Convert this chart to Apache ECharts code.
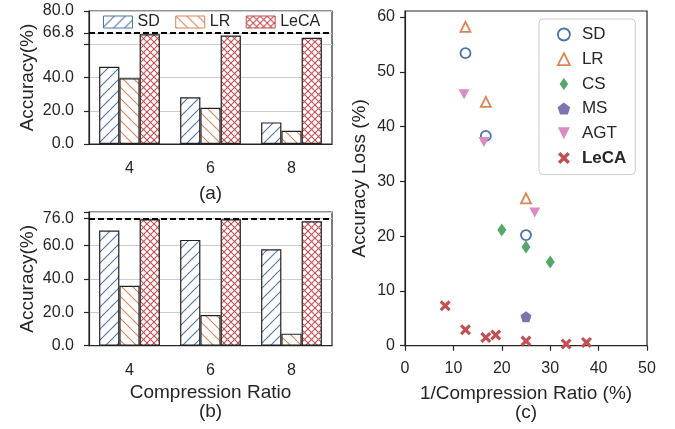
<!DOCTYPE html>
<html><head><meta charset="utf-8">
<script src="https://cdn.jsdelivr.net/npm/echarts@6/dist/echarts.min.js"></script>
<style>html,body{margin:0;padding:0;background:#fff}#c{width:675px;height:429px}</style>
</head><body><div id="c"></div>
<script>
// ---- data ----
const categories = ['4', '6', '8'];
const topSD = [46.5, 28.1, 13.0];
const topLR = [39.5, 21.8, 8.0];
const topLeCA = [66.0, 65.2, 63.9];
const topRef = 66.8;
const topLabelValues = [0, 20, 40, 66.8, 80];
const topTickValues = [0, 20, 40, 60, 66.8, 80];

const botSD = [68.9, 63.3, 57.7];
const botLR = [35.9, 18.4, 7.2];
const botLeCA = [75.7, 75.7, 74.5];
const botRef = 76.0;
const botLabelValues = [0, 20, 40, 60, 76];
const botTickValues = [0, 20, 40, 60, 76, 80];

const scSD = [[12.5, 53.4], [16.7, 38.3], [25, 20.2]];
const scLR = [[12.5, 58.2], [16.7, 44.5], [25, 26.9]];
const scCS = [[20, 21.1], [25, 18.0], [30, 15.3]];
const scMS = [[25, 5.3]];
const scAGT = [[12.2, 45.9], [16.3, 37.2], [26.8, 24.3]];
const scLeCA = [[8.3, 7.3], [12.5, 2.9], [16.7, 1.5], [18.75, 1.95], [25, 0.85], [33.3, 0.3], [37.5, 0.6]];
const scYLabels = [0, 10, 20, 30, 40, 50, 60];

// ---- styles ----
const FONT = 'Liberation Sans, Arial, sans-serif';
const INK = '#262626';
const C_BLUE = '#4C72B0', C_ORANGE = '#DD8452', C_GREEN = '#55A868',
      C_PURPLE = '#8172B3', C_PINK = '#DA8BC3', C_RED = '#C44E52';

function hatch(color, d, dirs) {
  const c = document.createElement('canvas');
  c.width = d; c.height = d;
  const g = c.getContext('2d');
  g.fillStyle = '#fff'; g.fillRect(0, 0, d, d);
  g.strokeStyle = color; g.lineWidth = 1.1;
  for (const dir of dirs) {
    for (let k = -1; k <= 1; k++) {
      g.beginPath();
      if (dir === '/') { g.moveTo(k * d, d); g.lineTo(k * d + d, 0); }
      else { g.moveTo(k * d, 0); g.lineTo(k * d + d, d); }
      g.stroke();
    }
  }
  return { image: c, repeat: 'repeat' };
}
const patSD = hatch(C_BLUE, 11, ['/']);
const patLR = hatch(C_ORANGE, 11, ['\\']);
const patLeCA = hatch(C_RED, 7, ['/', '\\']);

const axisLineStyle = { color: INK, width: 1.2 };
const tickLabel = { fontSize: 16, color: INK, fontFamily: FONT };

function barSeries(name, data, pat, idx, mark) {
  const s = {
    name: name, type: 'bar', xAxisIndex: idx, yAxisIndex: idx, data: data,
    barCategoryGap: '25%', barGap: '0%',
    itemStyle: { color: pat, borderColor: '#222', borderWidth: 1.2 },
    emphasis: { disabled: true }, silent: true
  };
  if (mark !== undefined) {
    s.markLine = {
      silent: true, symbol: ['none', 'none'], label: { show: false },
      lineStyle: { color: '#000', width: 1.8, type: [6, 3] },
      data: [{ yAxis: mark }]
    };
  }
  return s;
}

const X = 'path://M2,0 L5,3 L8,0 L10,2 L7,5 L10,8 L8,10 L5,7 L2,10 L0,8 L3,5 L0,2 Z';
const PENT = 'path://M0,-1 L0.951,-0.309 L0.588,0.809 L-0.588,0.809 L-0.951,-0.309 Z';
const TRI = 'path://M0,-1 L1,1 L-1,1 Z';
const TRI_DOWN = 'path://M-1,-1 L1,-1 L0,1 Z';
const DIAM = 'path://M0,-1.4 L1,0 L0,1.4 L-1,0 Z';

function sc(name, data, symbol, size, style) {
  return { name: name, type: 'scatter', xAxisIndex: 2, yAxisIndex: 2, data: data,
    symbol: symbol, symbolSize: size, itemStyle: Object.assign({ opacity: 1 }, style),
    emphasis: { disabled: true }, silent: true };
}

const chart = echarts.init(document.getElementById('c'), null, { renderer: 'canvas' });
chart.setOption({
  animation: false,
  backgroundColor: '#fff',
  textStyle: { fontFamily: FONT, color: INK },
  grid: [
    { left: 89, top: 11, width: 243, height: 133, show: true, borderColor: INK, borderWidth: 1.2, backgroundColor: 'transparent' },
    { left: 89, top: 212, width: 243, height: 133.7, show: true, borderColor: INK, borderWidth: 1.2, backgroundColor: 'transparent' },
    { left: 405, top: 11, width: 242, height: 334.7, show: true, borderColor: INK, borderWidth: 1.2, backgroundColor: 'transparent' }
  ],
  xAxis: [
    { type: 'category', gridIndex: 0, data: categories,
      axisLine: { lineStyle: axisLineStyle }, axisTick: { alignWithLabel: true, length: 5, lineStyle: axisLineStyle },
      axisLabel: Object.assign({ margin: 17 }, tickLabel),
      name: '(a)', nameLocation: 'middle', nameGap: 40, nameTextStyle: { fontSize: 19, color: INK, fontFamily: FONT } },
    { type: 'category', gridIndex: 1, data: categories,
      axisLine: { lineStyle: axisLineStyle }, axisTick: { alignWithLabel: true, length: 5, lineStyle: axisLineStyle },
      axisLabel: Object.assign({ margin: 17 }, tickLabel),
      name: 'Compression Ratio\n(b)', nameLocation: 'middle', nameGap: 37.5,
      nameTextStyle: { fontSize: 19, lineHeight: 19, color: INK, fontFamily: FONT } },
    { type: 'value', gridIndex: 2, min: 0, max: 50, interval: 10,
      axisLine: { lineStyle: axisLineStyle }, axisTick: { length: 5, lineStyle: axisLineStyle },
      axisLabel: Object.assign({ margin: 15 }, tickLabel), splitLine: { show: false },
      name: '1/Compression Ratio (%)\n(c)', nameLocation: 'middle', nameGap: 38.5,
      nameTextStyle: { fontSize: 19, lineHeight: 19, color: INK, fontFamily: FONT } }
  ],
  yAxis: [
    { type: 'value', gridIndex: 0, min: 0, max: 80, interval: 20,
      axisLine: { show: true, lineStyle: axisLineStyle },
      axisTick: { show: true, length: 5, lineStyle: axisLineStyle, customValues: topTickValues },
      axisLabel: Object.assign({ margin: 15, customValues: topLabelValues, formatter: v => Number(v).toFixed(1) }, tickLabel),
      splitLine: { show: true, lineStyle: { color: '#cccccc', width: 1 } },
      name: 'Accuracy(%)', nameLocation: 'middle', nameGap: 52, nameTextStyle: { fontSize: 19, color: INK, fontFamily: FONT } },
    { type: 'value', gridIndex: 1, min: 0, max: 80, interval: 20,
      axisLine: { show: true, lineStyle: axisLineStyle },
      axisTick: { show: true, length: 5, lineStyle: axisLineStyle, customValues: botTickValues },
      axisLabel: Object.assign({ margin: 15, customValues: botLabelValues, formatter: v => Number(v).toFixed(1) }, tickLabel),
      splitLine: { show: true, lineStyle: { color: '#cccccc', width: 1 } },
      name: 'Accuracy(%)', nameLocation: 'middle', nameGap: 52, nameTextStyle: { fontSize: 19, color: INK, fontFamily: FONT } },
    { type: 'value', gridIndex: 2, min: 0, max: 61.1, interval: 10,
      axisLine: { show: true, lineStyle: axisLineStyle },
      axisTick: { show: true, length: 5, lineStyle: axisLineStyle, customValues: scYLabels },
      axisLabel: Object.assign({ margin: 10, customValues: scYLabels }, tickLabel),
      splitLine: { show: false },
      name: 'Accuracy Loss (%)', nameLocation: 'middle', nameGap: 36, nameTextStyle: { fontSize: 19, color: INK, fontFamily: FONT } }
  ],
  legend: [
    { left: 103, top: 14, padding: 0, orient: 'horizontal', itemWidth: 29, itemHeight: 12, itemGap: 15.5,
      icon: 'rect', textStyle: { fontSize: 16, color: INK, fontFamily: FONT, lineHeight: 16 },
      selectedMode: false,
      data: [
        { name: 'SD', itemStyle: { borderColor: C_BLUE, borderWidth: 1 } },
        { name: 'LR', itemStyle: { borderColor: C_ORANGE, borderWidth: 1 } },
        { name: 'LeCA', itemStyle: { borderColor: C_RED, borderWidth: 1 } }
      ] },
    { left: 539, top: 19, orient: 'vertical', padding: [7, 9, 8, 18], itemWidth: 26, itemHeight: 12, itemGap: 7.7,
      borderColor: '#cccccc', borderWidth: 1, borderRadius: 4, backgroundColor: '#fff',
      selectedMode: false,
      formatter: n => n === 'c_LeCA' ? '{b|LeCA}' : n.replace('c_', ''),
      textStyle: { fontSize: 17, color: INK, fontFamily: FONT, lineHeight: 16,
        rich: { b: { fontSize: 17, fontWeight: 'bold', color: INK, fontFamily: FONT, lineHeight: 16 } } },
      data: [
        { name: 'c_SD', itemStyle: { color: '#fff', borderColor: C_BLUE, borderWidth: 1.8 } },
        { name: 'c_LR', itemStyle: { color: '#fff', borderColor: C_ORANGE, borderWidth: 1.8 } },
        { name: 'c_CS' }, { name: 'c_MS' }, { name: 'c_AGT' }, { name: 'c_LeCA' }
      ] }
  ],
  series: [
    barSeries('SD', topSD, patSD, 0),
    barSeries('LR', topLR, patLR, 0),
    barSeries('LeCA', topLeCA, patLeCA, 0, topRef),
    barSeries('SD', botSD, patSD, 1),
    barSeries('LR', botLR, patLR, 1),
    barSeries('LeCA', botLeCA, patLeCA, 1, botRef),
    sc('c_SD', scSD, 'circle', 10, { color: 'rgba(255,255,255,0)', borderColor: C_BLUE, borderWidth: 1.8 }),
    sc('c_LR', scLR, TRI, [10, 10], { color: 'rgba(255,255,255,0)', borderColor: C_ORANGE, borderWidth: 1.8 }),
    sc('c_CS', scCS, DIAM, [9, 13], { color: C_GREEN }),
    sc('c_MS', scMS, PENT, 11, { color: C_PURPLE }),
    sc('c_AGT', scAGT, TRI_DOWN, [11, 10], { color: C_PINK }),
    sc('c_LeCA', scLeCA, X, 11, { color: C_RED })
  ]
});
</script>
</body></html>
